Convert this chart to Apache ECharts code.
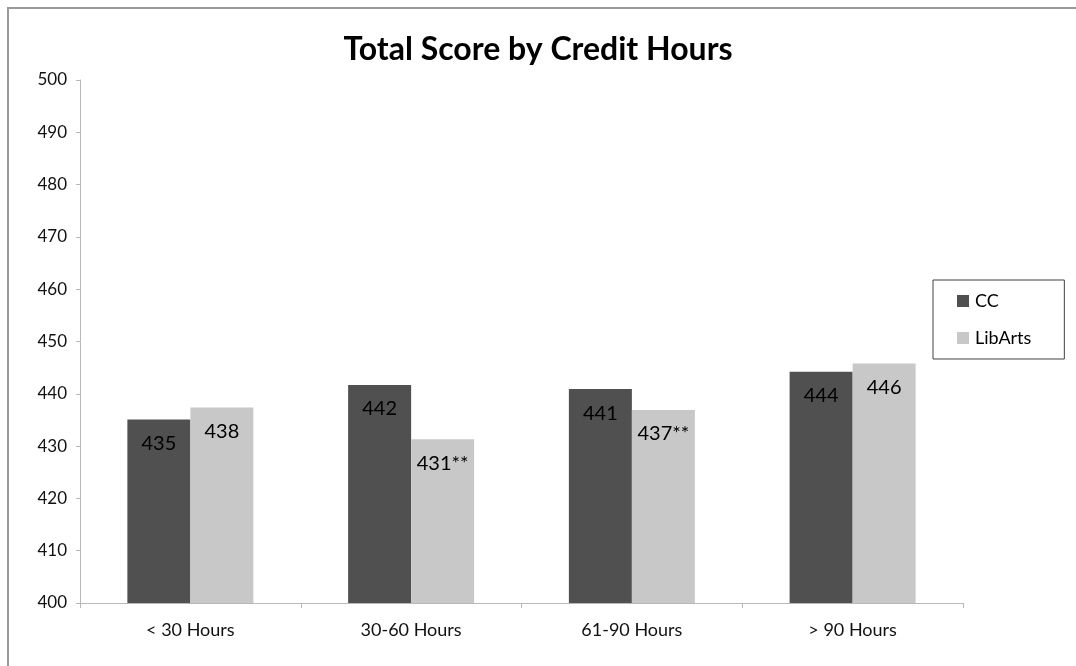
<!DOCTYPE html>
<html>
<head>
<meta charset="utf-8">
<script src="https://cdn.jsdelivr.net/npm/echarts@6/dist/echarts.min.js"></script>
<style>
html,body{margin:0;padding:0;background:#fff;}
#c{width:1076px;height:666px;}
</style>
</head>
<body>
<div id="c"></div>
<script>
const categories = ['< 30 Hours', '30-60 Hours', '61-90 Hours', '> 90 Hours'];
const ccValues = [435.1, 441.7, 440.9, 444.2];
const libArtsValues = [437.4, 431.3, 436.9, 445.8];
const ccLabels = ['435', '442', '441', '444'];
const libArtsLabels = ['438', '431**', '437**', '446'];
const yTicks = { min: 400, max: 500, interval: 10 };

const FONT = 'Lato';
const chart = echarts.init(document.getElementById('c'), null, { renderer: 'canvas' });
chart.setOption({
  backgroundColor: '#fff',
  animation: false,
  textStyle: { fontFamily: FONT },
  title: {
    text: 'Total Score by Credit Hours',
    left: 533, top: 29, textAlign: 'center',
    textStyle: { fontFamily: FONT, fontSize: 32, fontWeight: 'bold', color: '#000' }
  },
  graphic: [{
    type: 'rect', shape: { x: 8, y: 8, width: 1100, height: 700 },
    style: { fill: 'none', stroke: '#9a9a9a', lineWidth: 2 }, silent: true
  }],
  legend: {
    orient: 'vertical', left: 933, top: 280,
    padding: [12, 33, 12, 24], itemGap: 19,
    borderColor: '#404040', borderWidth: 1,
    itemWidth: 12, itemHeight: 12, icon: 'rect',
    textStyle: { fontFamily: FONT, fontSize: 18, color: '#000', padding: [0, 0, 0, 1] },
    data: ['CC', 'LibArts']
  },
  grid: { left: 80, right: 113, top: 80, bottom: 63, containLabel: false },
  xAxis: {
    type: 'category', data: categories,
    axisLine: { lineStyle: { color: '#b8b8b8', width: 1 } },
    axisTick: { show: true, alignWithLabel: false, length: 5, lineStyle: { color: '#b8b8b8' } },
    axisLabel: { fontFamily: FONT, fontSize: 18, color: '#111', margin: 18 }
  },
  yAxis: {
    type: 'value', min: yTicks.min, max: yTicks.max, interval: yTicks.interval,
    axisLine: { show: true, lineStyle: { color: '#b8b8b8', width: 1 } },
    axisTick: { show: true, length: 4, lineStyle: { color: '#b8b8b8' } },
    splitLine: { show: false },
    axisLabel: { fontFamily: FONT, fontSize: 17, color: '#111', margin: 13 }
  },
  series: [
    {
      name: 'CC', type: 'bar', data: ccValues, barWidth: 63, barGap: '0%',
      itemStyle: { color: '#505050' },
      label: { show: true, position: 'insideTop', distance: 14,
        formatter: p => ccLabels[p.dataIndex],
        fontFamily: FONT, fontSize: 20, color: '#000' }
    },
    {
      name: 'LibArts', type: 'bar', data: libArtsValues, barWidth: 63, barGap: '0%',
      itemStyle: { color: '#c8c8c8' },
      label: { show: true, position: 'insideTop', distance: 14,
        formatter: p => libArtsLabels[p.dataIndex],
        fontFamily: FONT, fontSize: 20, color: '#000' }
    }
  ]
});
</script>
</body>
</html>
